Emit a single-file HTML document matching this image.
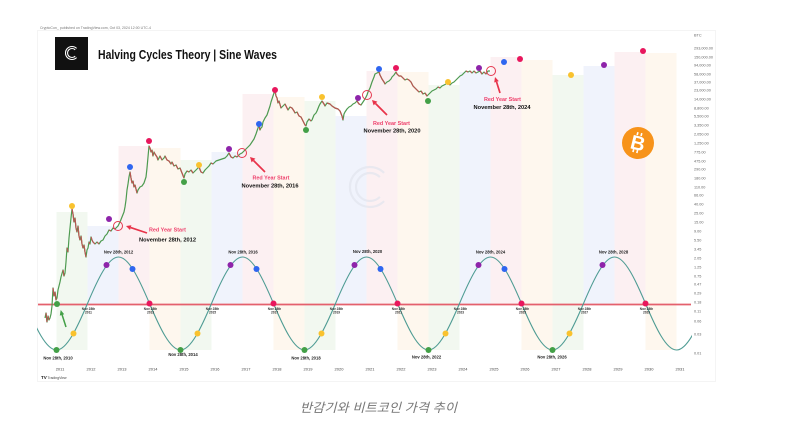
<!DOCTYPE html>
<html><head><meta charset="utf-8"><style>
html,body{margin:0;padding:0;background:#fff;}
svg{display:block;}
text{font-family:"Liberation Sans",sans-serif;}
</style></head><body>
<svg width="804" height="426" viewBox="0 0 804 426" xmlns="http://www.w3.org/2000/svg">
<defs>
<clipPath id="sc"><rect x="37" y="200" width="655" height="170"/></clipPath>
</defs>
<rect width="804" height="426" fill="#fff"/>
<rect x="37.5" y="30.5" width="678" height="351" fill="none" stroke="#f4f4f4" stroke-width="1"/>
<text x="40" y="29" font-size="4" fill="#777" textLength="111" lengthAdjust="spacingAndGlyphs">CryptoCon_ published on TradingView.com, Oct 03, 2024 12:00 UTC-4</text>

<!-- bands -->
<g>
<rect x="56.5" y="212" width="31" height="138" fill="#f2f8f0"/>
<rect x="87.5" y="226" width="31" height="78" fill="#f0f3fc"/>
<rect x="118.5" y="146" width="31" height="158" fill="#fcf0f2"/>
<rect x="149.5" y="148" width="31" height="202" fill="#fef7ee"/>
<rect x="180.5" y="160" width="31" height="190" fill="#f2f8f0"/>
<rect x="211.5" y="152" width="31" height="152" fill="#f0f3fc"/>
<rect x="242.5" y="94" width="31" height="210" fill="#fcf0f2"/>
<rect x="273.5" y="97" width="31" height="253" fill="#fef7ee"/>
<rect x="304.5" y="101" width="31" height="249" fill="#f2f8f0"/>
<rect x="335.5" y="116" width="31" height="188" fill="#f0f3fc"/>
<rect x="366.5" y="71" width="31" height="233" fill="#fcf0f2"/>
<rect x="397.5" y="72" width="31" height="278" fill="#fef7ee"/>
<rect x="428.5" y="85" width="31" height="265" fill="#f2f8f0"/>
<rect x="459.5" y="72" width="31" height="232" fill="#f0f3fc"/>
<rect x="490.5" y="57" width="31" height="247" fill="#fcf0f2"/>
<rect x="521.5" y="60" width="31" height="290" fill="#fef7ee"/>
<rect x="552.5" y="75" width="31" height="275" fill="#f2f8f0"/>
<rect x="583.5" y="66" width="31" height="238" fill="#f0f3fc"/>
<rect x="614.5" y="52" width="31" height="252" fill="#fcf0f2"/>
<rect x="645.5" y="53" width="31" height="297" fill="#fef7ee"/>
</g>

<!-- watermark -->
<g fill="none" stroke="#e2e5ee" stroke-width="2.2" opacity="0.7">
<path d="M384.1,172.9 A20,20 0 1 0 384.1,201.1"/>
<path d="M379.9,177.1 A14,14 0 1 0 379.9,196.9"/>
</g>

<!-- header -->
<rect x="55" y="37" width="33" height="33" fill="#111"/>
<g fill="none" stroke="#fff" stroke-width="1.1">
<path d="M76.6,48.4 A6.5,6.5 0 1 0 76.6,57.6"/>
<path d="M75.2,49.8 A4.5,4.5 0 1 0 75.2,56.2"/>
</g>
<text x="98" y="59" font-size="13" font-weight="bold" fill="#111" textLength="179" lengthAdjust="spacingAndGlyphs">Halving Cycles Theory | Sine Waves</text>

<!-- red line -->
<line x1="38" y1="304.5" x2="691" y2="304.5" stroke="#e4606d" stroke-width="1.8"/>

<!-- sine -->
<path clip-path="url(#sc)" fill="none" stroke="#4f9c94" stroke-width="1.1" d="M25.5,303.5
c10.33,24.35 20.67,46.5 31,46.5 c10.33,0 20.67,-22.15 31,-46.5 c10.33,-24.35 20.67,-46.5 31,-46.5 c10.33,0 20.67,22.15 31,46.5
c10.33,24.35 20.67,46.5 31,46.5 c10.33,0 20.67,-22.15 31,-46.5 c10.33,-24.35 20.67,-46.5 31,-46.5 c10.33,0 20.67,22.15 31,46.5
c10.33,24.35 20.67,46.5 31,46.5 c10.33,0 20.67,-22.15 31,-46.5 c10.33,-24.35 20.67,-46.5 31,-46.5 c10.33,0 20.67,22.15 31,46.5
c10.33,24.35 20.67,46.5 31,46.5 c10.33,0 20.67,-22.15 31,-46.5 c10.33,-24.35 20.67,-46.5 31,-46.5 c10.33,0 20.67,22.15 31,46.5
c10.33,24.35 20.67,46.5 31,46.5 c10.33,0 20.67,-22.15 31,-46.5 c10.33,-24.35 20.67,-46.5 31,-46.5 c10.33,0 20.67,22.15 31,46.5
c10.33,24.35 20.67,46.5 31,46.5 c10.33,0 20.67,-22.15 31,-46.5"/>

<!-- price line -->
<path fill="none" stroke="#4d9a50" stroke-width="1.2" stroke-linejoin="round" d="M45,318 L46,313 47,322 48,316 49,320 50,318 51,314 52,306 53,288 54,296 55,292 56,300 57,298 58,290 60,282 61,277 63,270 64,276 65,273 66,262 67,248 68,252 69,238 70,228 71,218 72,209 73,214 74,222 75,218 76,228 77,232 78,226 79,236 80,240 81,236 82,244 83,248 84,245 85,252 86,257 87,250 88,248 89,242 90,244 91,237 92,240 93,242 95,244 97,242 99,244 101,241 103,240 105,236 107,234 109,230 111,231 113,228 115,229 118,226
120,222 122,217 124,212 125,207 126,200 127,190 128,184 129,177 130,172 131,178 132,183 133,181 134,187 135,185 137,193 138,190 140,187 142,186 144,183 145,180 146,177 147,168 148,157 149,146 150,148 151,152 152,150 153,156 154,152 155,154 157,157 158,160 160,156 162,160 164,158 165,156 167,160 169,161 171,164 172,162 174,166 176,165 178,169 180,168 182,173 184,178 185,174 187,171 189,172 191,170 193,173 195,171 197,169 199,167 201,172 203,173 205,170 207,168 209,166 211,163 213,164 216,161 219,160 222,159 225,158 227,156 229,153 231,157 233,158 235,156 237,157 240,154 242,153
244,151 246,149 248,147 250,145 252,142 254,139 256,134 258,128 259,125 260,130 261,128 262,127 263,122 265,118 267,115 268,112 270,106 271,102 273,96 274,93 275,91 276,96 277,98 278,103 279,101 281,108 283,106 285,104 287,108 288,110 290,107 292,108 294,111 295,113 297,112 299,116 301,117 302,119 304,123 305,125 306,126 307,122 309,119 311,121 312,120 314,115 316,113 317,111 319,106 320,104 322,101 324,104 325,106 327,103 330,104 332,106 335,108 338,109 340,111 342,116 343,120 344,114 345,112 347,109 349,107 351,106 353,104 355,103 357,101 359,104 361,105 363,102 365,99 367,95
368,92 370,88 371,85 372,82 374,77 375,74 377,73 379,72 380,75 382,79 384,82 385,84 387,82 389,81 391,79 392,77 394,75 396,72 397,74 399,76 401,76 403,78 405,80 407,79 409,80 411,82 413,86 415,88 417,90 419,92 421,91 423,94 425,93 427,96 428,95 430,93 432,91 434,90 436,89 438,87 440,88 442,86 444,85 446,84 448,83 450,85 452,83 454,82 456,80 458,78 460,76 462,75 464,73 466,71 468,72 470,71 472,73 474,71 476,73 478,72 480,71 482,74 484,72 486,74 488,71 490,71"/>
<path fill="none" stroke="#b95652" stroke-width="1.2" stroke-linejoin="round" d="M46,313L47,322 M48,316L49,320 M53,288L54,296 M55,292L56,300 M63,270L64,276 M67,248L68,252 M72,209L73,214L74,222 M75,218L76,228L77,232 M78,226L79,236L80,240 M81,236L82,244L83,248 M84,245L85,252L86,257 M89,242L90,244 M91,237L92,240L93,242L95,244 M97,242L99,244 M109,230L111,231 M113,228L115,229
M130,172L131,178L132,183 M133,181L134,187 M135,185L137,193 M149,146L150,148L151,152 M152,150L153,156 M154,152L155,154L157,157L158,160 M160,156L162,160 M165,156L167,160L169,161L171,164 M172,162L174,166 M176,165L178,169 M180,168L182,173L184,178 M187,171L189,172 M191,170L193,173 M199,167L201,172L203,173 M211,163L213,164 M229,153L231,157L233,158 M235,156L237,157
M259,125L260,130 M275,91L276,96L277,98L278,103 M279,101L281,108 M285,104L287,108L288,110 M290,107L292,108L294,111L295,113 M297,112L299,116L301,117L302,119L304,123L305,125L306,126 M309,119L311,121 M322,101L324,104L325,106 M327,103L330,104L332,106L335,108L338,109L340,111L342,116L343,120 M357,101L359,104L361,105
M379,72L380,75L382,79L384,82L385,84 M396,72L397,74L399,76L401,76L403,78L405,80 M407,79L409,80L411,82L413,86L415,88L417,90L419,92 M421,91L423,94 M425,93L427,96 M438,87L440,88 M448,83L450,85 M466,71L468,72 M470,71L472,73 M474,71L476,73 M480,71L482,74 M484,72L486,74"/>

<!-- price dots -->
<g>
<circle cx="57" cy="304" r="3" fill="#43a047"/>
<circle cx="72" cy="206" r="3" fill="#f9c22e"/>
<circle cx="109" cy="219" r="3" fill="#8e24aa"/>
<circle cx="130" cy="167" r="3" fill="#2f66f0"/>
<circle cx="149" cy="141" r="3" fill="#e8175d"/>
<circle cx="184" cy="182" r="3" fill="#43a047"/>
<circle cx="199" cy="165" r="3" fill="#f9c22e"/>
<circle cx="229" cy="149" r="3" fill="#8e24aa"/>
<circle cx="259" cy="124" r="3" fill="#2f66f0"/>
<circle cx="275" cy="90" r="3" fill="#e8175d"/>
<circle cx="306" cy="130" r="3" fill="#43a047"/>
<circle cx="322" cy="97" r="3" fill="#f9c22e"/>
<circle cx="358" cy="98" r="3" fill="#8e24aa"/>
<circle cx="379" cy="69" r="3" fill="#2f66f0"/>
<circle cx="396" cy="68" r="3" fill="#e8175d"/>
<circle cx="428" cy="101" r="3" fill="#43a047"/>
<circle cx="448" cy="82" r="3" fill="#f9c22e"/>
<circle cx="479" cy="68" r="3" fill="#8e24aa"/>
<circle cx="504" cy="62" r="3" fill="#2f66f0"/>
<circle cx="520" cy="59" r="3" fill="#e8175d"/>
<circle cx="571" cy="75" r="3" fill="#f9c22e"/>
<circle cx="604" cy="65" r="3" fill="#8e24aa"/>
<circle cx="643" cy="51" r="3" fill="#e8175d"/>
</g>

<!-- red year start circles -->
<g fill="none" stroke="#e53950" stroke-width="1">
<circle cx="118" cy="226" r="4.5"/>
<circle cx="242" cy="153" r="4.5"/>
<circle cx="367" cy="95" r="4.5"/>
<circle cx="491" cy="71" r="4.5"/>
</g>

<!-- arrows -->
<g stroke="#e8334a" stroke-width="1.7" fill="none">
<line x1="147" y1="233" x2="130.7" y2="227.6"/>
<line x1="265" y1="172" x2="253.5" y2="160.5"/>
<line x1="387" y1="115" x2="375.5" y2="103.5"/>
<line x1="500" y1="93" x2="496.5" y2="81.8"/>
</g>
<g fill="#e8334a">
<polygon points="126,226 131.4,225.2 130,230"/>
<polygon points="250,157 255.4,158.6 251.6,162.4"/>
<polygon points="372,100 377.4,101.6 373.6,105.4"/>
<polygon points="495,77 498.8,81.1 494.2,82.5"/>
</g>
<g font-weight="bold" font-size="5.8">
<text x="149" y="231.5" fill="#ee3f6b" textLength="37" lengthAdjust="spacingAndGlyphs">Red Year Start</text>
<text x="139" y="241.5" fill="#111" textLength="57" lengthAdjust="spacingAndGlyphs">November 28th, 2012</text>
<text x="252.5" y="179.5" fill="#ee3f6b" textLength="37" lengthAdjust="spacingAndGlyphs">Red Year Start</text>
<text x="241.5" y="187.5" fill="#111" textLength="57" lengthAdjust="spacingAndGlyphs">November 28th, 2016</text>
<text x="373" y="125" fill="#ee3f6b" textLength="37" lengthAdjust="spacingAndGlyphs">Red Year Start</text>
<text x="363.5" y="132.5" fill="#111" textLength="57" lengthAdjust="spacingAndGlyphs">November 28th, 2020</text>
<text x="484" y="101" fill="#ee3f6b" textLength="37" lengthAdjust="spacingAndGlyphs">Red Year Start</text>
<text x="473.5" y="109" fill="#111" textLength="57" lengthAdjust="spacingAndGlyphs">November 28th, 2024</text>
</g>

<!-- green arrow -->
<line x1="66" y1="327" x2="62" y2="314.5" stroke="#43a047" stroke-width="1.5"/>
<polygon points="60.7,310 64.2,314.2 59.8,315.6" fill="#43a047"/>

<!-- sine dots -->
<g>
<circle cx="56.5" cy="350" r="3" fill="#43a047"/>
<circle cx="180.5" cy="350" r="3" fill="#43a047"/>
<circle cx="304.5" cy="350" r="3" fill="#43a047"/>
<circle cx="428.5" cy="350" r="3" fill="#43a047"/>
<circle cx="552.5" cy="350" r="3" fill="#43a047"/>
<circle cx="73.5" cy="333.5" r="3" fill="#f9c22e"/>
<circle cx="197.5" cy="333.5" r="3" fill="#f9c22e"/>
<circle cx="321.5" cy="333.5" r="3" fill="#f9c22e"/>
<circle cx="445.5" cy="333.5" r="3" fill="#f9c22e"/>
<circle cx="569.5" cy="333.5" r="3" fill="#f9c22e"/>
<circle cx="106.5" cy="265" r="3" fill="#8e24aa"/>
<circle cx="230.5" cy="265" r="3" fill="#8e24aa"/>
<circle cx="354.5" cy="265" r="3" fill="#8e24aa"/>
<circle cx="478.5" cy="265" r="3" fill="#8e24aa"/>
<circle cx="602.5" cy="265" r="3" fill="#8e24aa"/>
<circle cx="132.5" cy="269" r="3" fill="#2f66f0"/>
<circle cx="256.5" cy="269" r="3" fill="#2f66f0"/>
<circle cx="380.5" cy="269" r="3" fill="#2f66f0"/>
<circle cx="504.5" cy="269" r="3" fill="#2f66f0"/>
<circle cx="149.5" cy="303.5" r="3" fill="#e8175d"/>
<circle cx="273.5" cy="303.5" r="3" fill="#e8175d"/>
<circle cx="397.5" cy="303.5" r="3" fill="#e8175d"/>
<circle cx="521.5" cy="303.5" r="3" fill="#e8175d"/>
<circle cx="645.5" cy="303.5" r="3" fill="#e8175d"/>
</g>

<!-- sine labels -->
<g font-size="4.2" font-weight="bold" fill="#222" text-anchor="middle">
<text x="118.5" y="253.5">Nov 28th, 2012</text>
<text x="243" y="253.5">Nov 28th, 2016</text>
<text x="367.5" y="253">Nov 28th, 2020</text>
<text x="490.5" y="253.5">Nov 28th, 2024</text>
<text x="613.5" y="253.5">Nov 28th, 2028</text>
<text x="58" y="359.5">Nov 28th, 2010</text>
<text x="183" y="356">Nov 28th, 2014</text>
<text x="306" y="359.5">Nov 28th, 2018</text>
<text x="426.5" y="358.5">Nov 28th, 2022</text>
<text x="552" y="358.5">Nov 28th, 2026</text>
</g>
<g font-size="3.2" font-weight="bold" fill="#333" text-anchor="middle">
<text x="88.5" y="310">Nov 28th</text><text x="88.5" y="313.5">2011</text>
<text x="150.5" y="310">Nov 28th</text><text x="150.5" y="313.5">2013</text>
<text x="212.5" y="310">Nov 28th</text><text x="212.5" y="313.5">2015</text>
<text x="274.5" y="310">Nov 28th</text><text x="274.5" y="313.5">2017</text>
<text x="336.5" y="310">Nov 28th</text><text x="336.5" y="313.5">2019</text>
<text x="398.5" y="310">Nov 28th</text><text x="398.5" y="313.5">2021</text>
<text x="460.5" y="310">Nov 28th</text><text x="460.5" y="313.5">2023</text>
<text x="522.5" y="310">Nov 28th</text><text x="522.5" y="313.5">2025</text>
<text x="584.5" y="310">Nov 28th</text><text x="584.5" y="313.5">2027</text>
<text x="646.5" y="310">Nov 28th</text><text x="646.5" y="313.5">2029</text>
</g>

<!-- bitcoin logo -->
<circle cx="638" cy="143" r="16" fill="#f7931a"/>
<g transform="rotate(14 638 143)" fill="#fff">
<text x="638" y="150" font-size="20" font-weight="bold" text-anchor="middle">B</text>
<rect x="634.5" y="132.5" width="1.6" height="3" />
<rect x="638.5" y="132.5" width="1.6" height="3" />
<rect x="634.5" y="150" width="1.6" height="3" />
<rect x="638.5" y="150" width="1.6" height="3" />
</g>

<!-- year axis -->
<g font-size="4" fill="#444" text-anchor="middle">
<text x="60" y="370.5">2011</text><text x="91" y="370.5">2012</text><text x="122" y="370.5">2013</text><text x="153" y="370.5">2014</text><text x="184" y="370.5">2015</text><text x="215" y="370.5">2016</text><text x="246" y="370.5">2017</text><text x="277" y="370.5">2018</text><text x="308" y="370.5">2019</text><text x="339" y="370.5">2020</text><text x="370" y="370.5">2021</text><text x="401" y="370.5">2022</text><text x="432" y="370.5">2023</text><text x="463" y="370.5">2024</text><text x="494" y="370.5">2025</text><text x="525" y="370.5">2026</text><text x="556" y="370.5">2027</text><text x="587" y="370.5">2028</text><text x="618" y="370.5">2029</text><text x="649" y="370.5">2030</text><text x="680" y="370.5">2031</text>
</g>

<!-- price axis -->
<g font-size="3.8" fill="#666">
<text x="694" y="36.5">BTC</text>
<text x="694" y="49.4">293,000.00</text>
<text x="694" y="58.4">150,000.00</text>
<text x="694" y="66.4">94,000.00</text>
<text x="694" y="75.4">58,000.00</text>
<text x="694" y="83.4">37,000.00</text>
<text x="694" y="91.4">23,000.00</text>
<text x="694" y="100.4">14,000.00</text>
<text x="694" y="109.4">8,800.00</text>
<text x="694" y="117.4">5,500.00</text>
<text x="694" y="126.4">3,350.00</text>
<text x="694" y="135.4">2,050.00</text>
<text x="694" y="144.4">1,250.00</text>
<text x="694" y="153.4">775.00</text>
<text x="694" y="162.4">475.00</text>
<text x="694" y="170.4">290.00</text>
<text x="694" y="179.4">180.00</text>
<text x="694" y="188.4">110.00</text>
<text x="694" y="196.4">66.00</text>
<text x="694" y="205.4">40.00</text>
<text x="694" y="214.4">25.00</text>
<text x="694" y="223.4">15.00</text>
<text x="694" y="232.4">9.00</text>
<text x="694" y="241.4">5.50</text>
<text x="694" y="250.4">3.45</text>
<text x="694" y="259.4">2.05</text>
<text x="694" y="268.4">1.25</text>
<text x="694" y="277.4">0.75</text>
<text x="694" y="285.4">0.47</text>
<text x="694" y="294.4">0.29</text>
<text x="694" y="303.4">0.18</text>
<text x="694" y="312.4">0.11</text>
<text x="694" y="322.4">0.06</text>
<text x="694" y="335.4">0.03</text>
<text x="694" y="354.4">0.01</text>
</g>

<!-- tradingview logo -->
<text x="41" y="379" font-size="4.5" font-weight="bold" fill="#222">TV</text>
<text x="47.5" y="379" font-size="3.8" fill="#444" textLength="19" lengthAdjust="spacingAndGlyphs">TradingView</text>

<!-- caption -->
<text x="378.5" y="412" font-size="12.5" font-style="italic" fill="#777" text-anchor="middle" textLength="157" lengthAdjust="spacingAndGlyphs" style="font-family:'Liberation Sans','Noto Sans CJK KR',sans-serif;">반감기와 비트코인 가격 추이</text>
</svg>
</body></html>
